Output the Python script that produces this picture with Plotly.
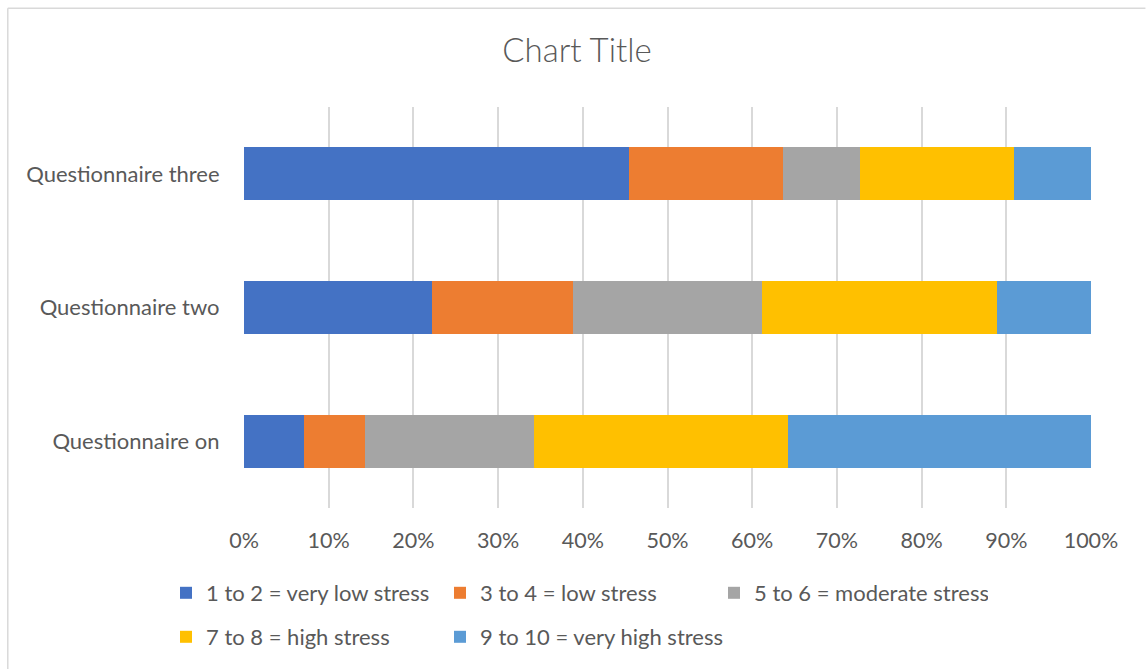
import plotly.graph_objects as go

# Questionnaires (bottom to top on the chart)
questionnaires = ["Questionnaire on", "Questionnaire two", "Questionnaire three"]

# Share of answers per stress band, in percent of each questionnaire
very_low = [7.14, 22.22, 45.45]
low = [7.14, 16.67, 18.18]
moderate = [20.0, 22.22, 9.09]
high = [30.0, 27.78, 18.18]
very_high = [35.72, 11.11, 9.10]

series_names = [
    "1 to 2 = very low stress",
    "3 to 4 = low stress",
    "5 to 6 = moderate stress",
    "7 to 8 = high stress",
    "9 to 10 = very high stress",
]
series_values = [very_low, low, moderate, high, very_high]
series_colors = ["#4472C4", "#ED7D31", "#A5A5A5", "#FFC000", "#5B9BD5"]
legend_groups = ["legend", "legend", "legend", "legend2", "legend2"]
legend_widths = [229, 229, 229, 229, 300]

tick_values = list(range(0, 101, 10))
tick_labels = [f"{v}%" for v in tick_values]

FONT = "Lato"
TEXT = "#595959"
GRID = "#D9D9D9"

fig = go.Figure()
for name, vals, color, lg, lw in zip(series_names, series_values, series_colors,
                                     legend_groups, legend_widths):
    fig.add_trace(go.Bar(
        y=questionnaires,
        x=vals,
        name=name,
        orientation="h",
        marker=dict(color=color, line=dict(width=0)),
        legend=lg,
        legendwidth=lw,
        hovertemplate="%{y}: %{x:.1f}%<extra>" + name + "</extra>",
    ))

legend_common = dict(
    orientation="h",
    xref="container",
    yref="container",
    xanchor="left",
    yanchor="middle",
    itemwidth=30,
    font=dict(family=FONT, size=22, color=TEXT),
    bgcolor="rgba(0,0,0,0)",
    borderwidth=0,
    traceorder="normal",
)

fig.update_layout(
    width=1146,
    height=670,
    paper_bgcolor="white",
    plot_bgcolor="white",
    barmode="stack",
    bargap=0.604,
    margin=dict(l=243.5, r=54.5, t=106.5, b=161.5, autoexpand=False),
    title=dict(
        text="Chart Title",
        x=577 / 1146,
        xanchor="center",
        y=1 - 50 / 670,
        yanchor="middle",
        font=dict(family=FONT, size=33, color=TEXT, weight=300),
    ),
    xaxis=dict(
        range=[0, 100],
        tickmode="array",
        tickvals=tick_values,
        ticktext=tick_labels,
        showgrid=True,
        gridcolor=GRID,
        gridwidth=1.5,
        zeroline=False,
        showline=False,
        ticks="outside",
        ticklen=13,
        tickcolor="rgba(0,0,0,0)",
        tickfont=dict(family=FONT, size=21.5, color=TEXT),
        fixedrange=True,
    ),
    yaxis=dict(
        categoryorder="array",
        categoryarray=questionnaires,
        showgrid=False,
        zeroline=False,
        showline=False,
        ticks="outside",
        ticklen=19,
        tickcolor="rgba(0,0,0,0)",
        tickfont=dict(family=FONT, size=22, color=TEXT),
        fixedrange=True,
    ),
    legend=dict(legend_common, x=166 / 1146, y=1 - 593 / 670),
    legend2=dict(legend_common, x=166 / 1146, y=1 - 637 / 670),
    shapes=[
        # chart frame (top and left edges)
        dict(type="line", xref="paper", yref="paper", x0=-236.5 / 848, x1=1 + 54.5 / 848,
             y0=1 + 99 / 402, y1=1 + 99 / 402, line=dict(color=GRID, width=1.5)),
        dict(type="line", xref="paper", yref="paper", x0=-236.5 / 848, x1=-236.5 / 848,
             y0=1 + 99 / 402, y1=-161.5 / 402, line=dict(color=GRID, width=1.5)),
    ],
)

fig.write_html("out.html")
